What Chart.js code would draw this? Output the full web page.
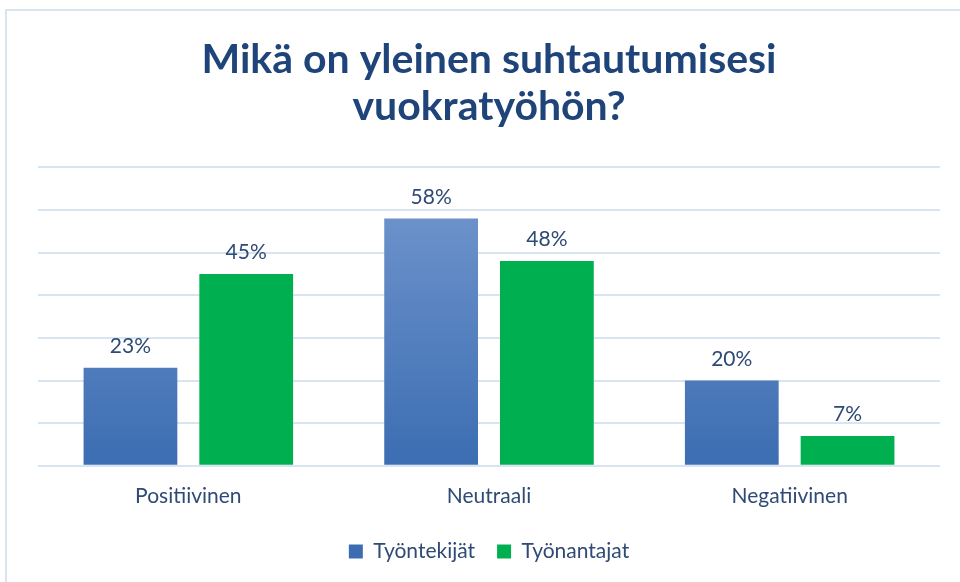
<!DOCTYPE html>
<html>
<head>
<meta charset="utf-8">
<script src="https://cdn.jsdelivr.net/npm/chart.js@4"></script>
<style>
  html, body { margin: 0; padding: 0; background: #fff; overflow: hidden; }
  #frame { position: absolute; left: 5px; top: 9px; width: 1000px; height: 1000px; border: 2px solid #D9E4F2; box-sizing: border-box; }
  #wrap { position: absolute; left: 0; top: 0; width: 960px; height: 582px; }
</style>
</head>
<body>
<div id="frame"></div>
<div id="wrap"><canvas id="chart" width="960" height="582"></canvas></div>
<script>
// カテゴリと系列
const categories = ['Positiivinen', 'Neutraali', 'Negatiivinen'];
const seriesNames = ['Työntekijät', 'Työnantajat'];
const tyontekijat = [23, 58, 20];
const tyonantajat = [45, 48, 7];

const labelColor = '#2E4A75';

// 青いバーのグラデーション
function blueGradient(context) {
    const chart = context.chart;
    const area = chart.chartArea;
    if (!area) return '#4F81BD';
    const g = chart.ctx.createLinearGradient(0, area.top + 40, 0, area.bottom);
    g.addColorStop(0, '#6D93CB');
    g.addColorStop(1, '#3C6DB2');
    return g;
}

// バーの上に値を書くプラグイン
const valueLabels = {
    id: 'valueLabels',
    afterDatasetsDraw(chart) {
        const ctx = chart.ctx;
        ctx.save();
        ctx.font = '21px Lato';
        ctx.fillStyle = labelColor;
        ctx.textAlign = 'center';
        ctx.textBaseline = 'bottom';
        chart.data.datasets.forEach((ds, i) => {
            chart.getDatasetMeta(i).data.forEach((bar, j) => {
                ctx.fillText(ds.data[j] + '%', bar.x, bar.y - 11);
            });
        });
        ctx.restore();
    }
};

new Chart(document.getElementById('chart'), {
    type: 'bar',
    data: {
        labels: categories,
        datasets: [
            { label: seriesNames[0], data: tyontekijat, backgroundColor: blueGradient },
            { label: seriesNames[1], data: tyonantajat, backgroundColor: '#00B050' }
        ]
    },
    options: {
        responsive: false,
        animation: false,
        categoryPercentage: 0.77,
        barPercentage: 0.81,
        layout: { padding: { left: 38, right: 20, top: 36, bottom: 10 } },
        scales: {
            x: {
                grid: { display: false },
                border: { display: false },
                ticks: { color: labelColor, font: { family: 'Lato', size: 21 }, padding: 10 }
            },
            y: {
                min: 0,
                max: 70,
                ticks: { display: false, stepSize: 10 },
                border: { display: false },
                grid: { color: '#D9E4F2', lineWidth: 2, drawTicks: false }
            }
        },
        plugins: {
            title: {
                display: true,
                text: ['Mikä on yleinen suhtautumisesi', 'vuokratyöhön?'],
                color: '#1F4479',
                font: { family: 'Lato', size: 41, weight: 'bold', lineHeight: 1.15 },
                padding: { top: 0, bottom: 37 }
            },
            legend: {
                position: 'bottom',
                labels: {
                    color: labelColor,
                    font: { family: 'Lato', size: 21 },
                    boxWidth: 14,
                    boxHeight: 14,
                    padding: 22
                }
            },
            tooltip: { enabled: false }
        }
    },
    plugins: [valueLabels]
});
</script>
</body>
</html>
